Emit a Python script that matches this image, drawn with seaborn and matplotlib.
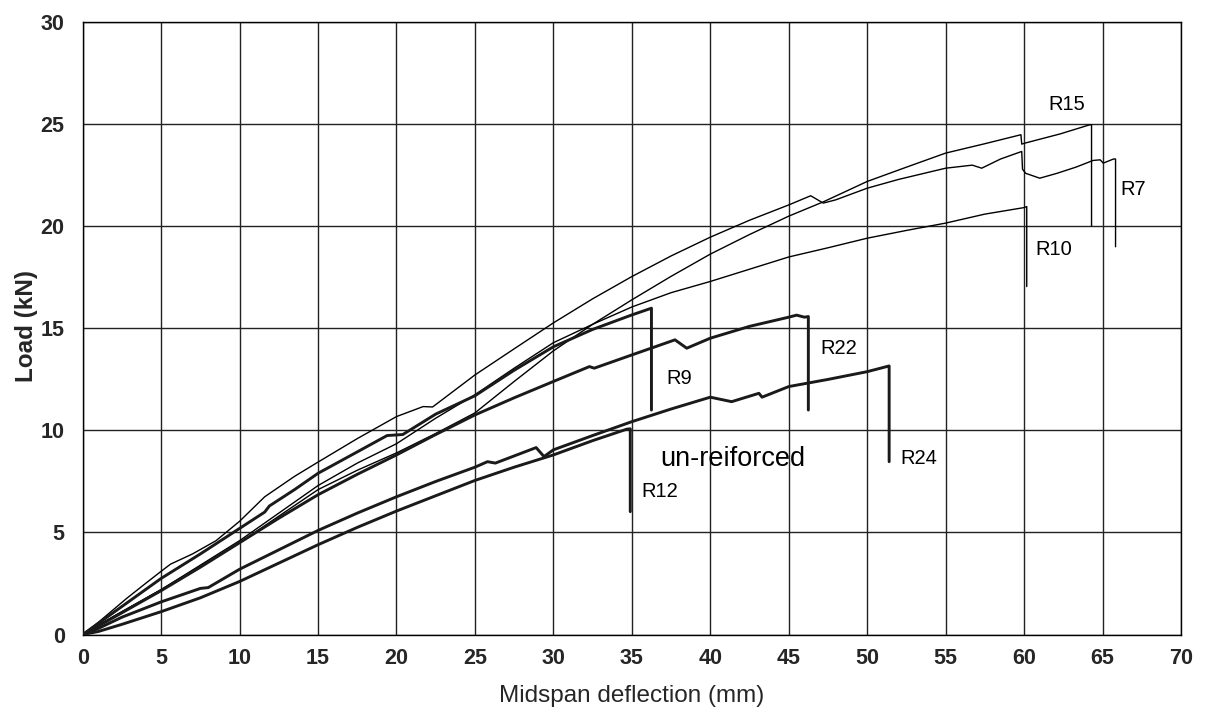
import matplotlib
matplotlib.use("Agg")
import matplotlib.pyplot as plt
import seaborn as sns
import pandas as pd

# ---- data (midspan deflection mm, load kN) ----
r7_x = [0, 1, 2, 2.8, 4, 5, 5.6, 7, 8.5, 10, 11.6, 13.5, 15, 17.5, 20, 21.7, 22.3, 25, 27.5, 30,
        32.5, 35, 37.5, 40, 42.5, 45, 46.4, 47.2, 48, 50, 52, 55, 56.7, 57.3, 58.5, 59.85, 59.9,
        60.1, 61.0, 62.1, 63.3, 64.4, 64.85, 65.05, 65.7, 65.83, 65.83]
r7_y = [0, 0.6, 1.25, 1.77, 2.5, 3.1, 3.45, 3.95, 4.6, 5.55, 6.75, 7.75, 8.45, 9.6, 10.68, 11.17,
        11.15, 12.72, 14.0, 15.27, 16.45, 17.54, 18.55, 19.47, 20.3, 21.05, 21.5, 21.14, 21.3,
        21.87, 22.3, 22.85, 23.0, 22.85, 23.3, 23.67, 22.8, 22.6, 22.36, 22.6, 22.9, 23.23, 23.26,
        23.1, 23.3, 23.3, 19.0]

r15_x = [0, 2, 5, 7.5, 10, 12.5, 15, 17.5, 20, 22.5, 25, 27.5, 30, 32.5, 35, 37.5, 40, 42.5, 45,
         47.2, 50, 52.5, 55, 57.5, 59.8, 59.85, 60.06, 62.3, 64.2, 64.3, 64.3]
r15_y = [0, 0.9, 2.2, 3.35, 4.5, 5.8, 7.1, 8.05, 8.9, 9.85, 10.86, 12.4, 13.9, 15.2, 16.4, 17.55,
         18.64, 19.6, 20.5, 21.2, 22.2, 22.9, 23.59, 24.05, 24.49, 24.03, 24.08, 24.53, 24.98,
         24.98, 20.02]

r10_x = [0, 2, 5, 7.5, 10, 12.5, 15, 17.5, 20, 22.5, 25, 27.5, 30, 32.5, 35, 37.5, 40, 42.5, 45,
         47.5, 50, 52.5, 55, 57.5, 60, 60.17, 60.17]
r10_y = [0, 0.9, 2.2, 3.4, 4.6, 5.95, 7.3, 8.4, 9.35, 10.6, 11.75, 13.05, 14.3, 15.2, 16.05, 16.75,
         17.3, 17.9, 18.5, 18.95, 19.42, 19.8, 20.16, 20.6, 20.92, 20.97, 17.05]

r9_x = [0, 2, 5, 7.5, 10, 11.6, 11.9, 13.5, 15, 17.5, 19.4, 20.4, 22.5, 25, 27.5, 30, 32.5, 35,
        36.25, 36.25]
r9_y = [0, 1.1, 2.75, 3.95, 5.2, 6.0, 6.3, 7.1, 7.9, 8.95, 9.75, 9.8, 10.8, 11.7, 12.95, 14.1,
        14.95, 15.66, 15.99, 11.0]

r22_x = [0, 2, 5, 7.5, 10, 12.5, 15, 17.5, 20, 22.5, 25, 27.5, 30, 32.3, 32.6, 35, 37.75, 38.5,
         40, 42.5, 45, 45.5, 46.0, 46.25, 46.25]
r22_y = [0, 0.85, 2.15, 3.3, 4.5, 5.7, 6.85, 7.85, 8.8, 9.8, 10.76, 11.6, 12.4, 13.13, 13.05, 13.7,
         14.44, 14.03, 14.52, 15.1, 15.55, 15.65, 15.55, 15.58, 11.0]

r24_x = [0, 1, 2.5, 5, 7.5, 8, 10, 12.5, 15, 17.5, 20, 22.5, 25, 25.8, 26.3, 28.9, 29.4, 30, 32.5,
         35, 37.5, 40, 41.36, 43.1, 43.3, 45, 47.5, 50, 51.4, 51.4]
r24_y = [0, 0.3, 0.85, 1.6, 2.26, 2.3, 3.2, 4.15, 5.1, 5.95, 6.75, 7.5, 8.2, 8.47, 8.4, 9.16, 8.72,
         9.05, 9.75, 10.43, 11.05, 11.63, 11.41, 11.82, 11.63, 12.15, 12.5, 12.88, 13.16, 8.47]

r12_x = [0, 1, 2.5, 5, 7.5, 10, 12.5, 15, 17.5, 20, 22.5, 25, 27.5, 30, 32.5, 34.67, 34.9, 34.9]
r12_y = [0, 0.15, 0.5, 1.12, 1.8, 2.6, 3.5, 4.4, 5.25, 6.05, 6.8, 7.55, 8.2, 8.8, 9.5, 10.06,
         10.08, 6.02]

labels = ["R15", "R7", "R10", "R9", "R22", "R24", "R12", "un-reiforced"]
label_x = [62.73, 66.97, 61.87, 38.04, 48.17, 53.27, 36.76, 41.42]
label_y = [25.96, 21.79, 18.85, 12.55, 14.02, 8.63, 7.01, 8.6]

x_ticks = list(range(0, 75, 5))
y_ticks = list(range(0, 35, 5))

# ---- plotting ----
sns.set_style("white")
plt.rcParams["font.family"] = ["Liberation Sans", "DejaVu Sans"]

fig = plt.figure(figsize=(12.11, 7.14), dpi=100)
ax = fig.add_axes([0.0683, 0.1113, 0.9069, 0.8575])

thin = [(r15_x, r15_y), (r7_x, r7_y), (r10_x, r10_y)]
thick = [(r9_x, r9_y), (r22_x, r22_y), (r24_x, r24_y), (r12_x, r12_y)]

for xs, ys in thin:
    df = pd.DataFrame({"x": xs, "y": ys})
    sns.lineplot(data=df, x="x", y="y", sort=False, estimator=None, ax=ax,
                 color="black", linewidth=1.0, zorder=3)
for xs, ys in thick:
    df = pd.DataFrame({"x": xs, "y": ys})
    sns.lineplot(data=df, x="x", y="y", sort=False, estimator=None, ax=ax,
                 color="#1a1a1a", linewidth=2.1, zorder=3)

for t, lx, ly in zip(labels, label_x, label_y):
    fs = 19.5 if t == "un-reiforced" else 14.5
    ax.text(lx, ly, t, fontsize=fs, ha="center", va="center", color="black", zorder=4)

ax.set_xlim(0, 70)
ax.set_ylim(0, 30)
ax.set_xticks(x_ticks)
ax.set_yticks(y_ticks)
ax.grid(True, color="#222222", linewidth=1.0)
ax.set_axisbelow(True)
for s in ax.spines.values():
    s.set_color("black")
    s.set_linewidth(1.0)

ax.tick_params(axis="both", which="major", direction="out", length=6, width=1.0,
               color="#444444", labelsize=15.5)
ax.tick_params(axis="x", pad=4)
ax.tick_params(axis="y", pad=7)
for lab in ax.get_xticklabels() + ax.get_yticklabels():
    lab.set_fontweight("bold")

ax.set_xlabel("Midspan deflection (mm)", fontsize=17.5, labelpad=11)
ax.set_ylabel("Load (kN)", fontsize=17.5, fontweight="bold")
ax.yaxis.set_label_coords(-0.041, 0.504)

fig.savefig("out.png", dpi=100)
